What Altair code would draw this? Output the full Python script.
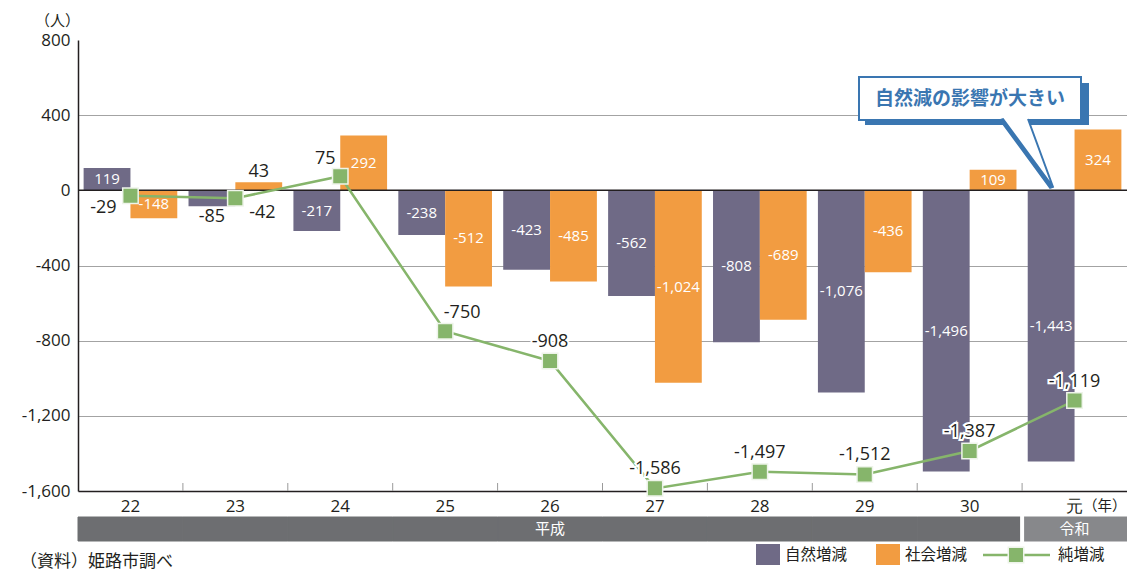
import altair as alt
import pandas as pd

# ---------------- data ----------------
categories = ["22", "23", "24", "25", "26", "27", "28", "29", "30", "元"]
natural = [119, -85, -217, -238, -423, -562, -808, -1076, -1496, -1443]
social = [-148, 43, 292, -512, -485, -1024, -689, -436, 109, 324]
net = [-29, -42, 75, -750, -908, -1586, -1497, -1512, -1387, -1119]
series_names = ["自然増減", "社会増減", "純増減"]
eras = ["平成"] * 9 + ["令和"]
era_label_cats = ["26", "元"]
y_ticks = [-1600, -1200, -800, -400, 0, 400, 800]
y_unit = "（人）"
x_unit = "（年）"
callout_text = "自然減の影響が大きい"
source_text = "（資料）姫路市調べ"

# ---------------- style ----------------
FONT = "Open Sans"
JFONT = "Noto Sans CJK JP"
DARK = "#231f20"
PURPLE = "#6f6a86"
ORANGE = "#f29c41"
GREEN = "#86b56b"
ERA_DARK = "#6d6e71"
ERA_LIGHT = "#87888b"
BLUE = "#3a76b1"

rows = []
for c, v in zip(categories, natural):
    rows.append({"cat": c, "series": series_names[0], "value": v})
for c, v in zip(categories, social):
    rows.append({"cat": c, "series": series_names[1], "value": v})
bars_df = pd.DataFrame(rows)
bars_df["mid"] = bars_df["value"] / 2
bars_df["label"] = bars_df["value"].map(lambda v: f"{v:,}")
bars_df["inside"] = bars_df["value"].abs() >= 100

net_df = pd.DataFrame({"cat": categories, "net": net})
net_df["label"] = net_df["net"].map(lambda v: f"{v:,}")

era_df = pd.DataFrame({"cat": categories, "era": eras})
one = pd.DataFrame({"a": [0]})

x_scale = alt.Scale(domain=categories, paddingInner=0, paddingOuter=0)
x_axis = alt.Axis(title=None, labelFont=FONT, labelFontSize=17, labelColor=DARK,
                  labelAngle=0, ticks=False, domainColor=DARK, domainWidth=1.5,
                  labelPadding=7, grid=False)
y_scale = alt.Scale(domain=[-1600, 800], nice=False, zero=False)
y_axis = alt.Axis(values=y_ticks, title=y_unit, titleAngle=0, titleX=-21, titleY=-20,
                  titleFont=JFONT, titleFontSize=15, titleFontWeight="normal",
                  titleColor=DARK, titleAlign="center", titleBaseline="middle",
                  labelFont=FONT, labelFontSize=17, labelColor=DARK, labelPadding=8,
                  labelExpr="replace(datum.label, '−', '-')",
                  ticks=False, domainColor=DARK, domainWidth=1.5,
                  grid=True, gridColor="#a3a3a3", gridWidth=1,
                  gridOpacity={"condition": {"test": "datum.value === 800 || datum.value === -1600",
                                             "value": 0}, "value": 1})


def X(**kw):
    return alt.X("cat:N", scale=x_scale, axis=x_axis, **kw)


def Y(field):
    return alt.Y(field, scale=y_scale, axis=y_axis)


xoff = alt.XOffset("series:N", scale=alt.Scale(domain=series_names[:2], paddingInner=0,
                                                paddingOuter=0.12))

bars = alt.Chart(bars_df).mark_bar().encode(
    x=X(), xOffset=xoff, y=Y("value:Q"),
    color=alt.Color("series:N", scale=alt.Scale(domain=series_names[:2], range=[PURPLE, ORANGE]),
                    legend=None),
)

zero = alt.Chart(one).mark_rule(color=DARK, strokeWidth=1.5).encode(y=alt.datum(0))

ticks = alt.Chart(pd.DataFrame({"cat": categories[1:]})).mark_rule(color="#9a9a9a", strokeWidth=1).encode(
    x=X(bandPosition=0), y=alt.value(443), y2=alt.value(451))

era_h = alt.Chart(era_df).transform_filter(alt.datum.era == "平成").mark_rect(
    color=ERA_DARK, stroke=ERA_DARK, strokeWidth=1).encode(
    x=X(), y=alt.value(477), y2=alt.value(501))
era_r = alt.Chart(era_df).transform_filter(alt.datum.era == "令和").mark_rect(
    color=ERA_LIGHT, stroke=ERA_LIGHT, strokeWidth=1).encode(
    x=X(), y=alt.value(477), y2=alt.value(501))
era_gap = alt.Chart(pd.DataFrame({"cat": ["元"]})).mark_rule(color="white", strokeWidth=4).encode(
    x=X(bandPosition=0), y=alt.value(476), y2=alt.value(502))
era_text = alt.Chart(pd.DataFrame({"cat": era_label_cats, "era": ["平成", "令和"]})).mark_text(
    font=JFONT, fontSize=15, color="white", baseline="middle").encode(
    x=X(), y=alt.value(489), text="era:N")

lab_in = alt.Chart(bars_df).transform_filter(alt.datum.inside).mark_text(
    font=FONT, fontSize=15, color="white", baseline="middle").encode(
    x=X(), xOffset=xoff, y=Y("mid:Q"), text="label:N")
lab_up = alt.Chart(bars_df).transform_filter("!datum.inside && datum.value > 0").mark_text(
    font=FONT, fontSize=18, color=DARK, baseline="middle", dy=-10).encode(
    x=X(), xOffset=xoff, y=Y("value:Q"), text="label:N")
lab_dn = alt.Chart(bars_df).transform_filter("!datum.inside && datum.value < 0").mark_text(
    font=FONT, fontSize=18, color=DARK, baseline="middle", dy=11).encode(
    x=X(), xOffset=xoff, y=Y("value:Q"), text="label:N")

line = alt.Chart(net_df).mark_line(color=GREEN, strokeWidth=2.5).encode(x=X(), y=Y("net:Q"))
pts = alt.Chart(net_df).mark_square(size=240, fill=GREEN, stroke="#eef4ea", strokeWidth=1.5,
                                    opacity=1).encode(x=X(), y=Y("net:Q"))


def net_labels(cats, dx, dy):
    base = alt.Chart(net_df).transform_filter(alt.FieldOneOfPredicate(field="cat", oneOf=cats))
    halo = base.mark_text(font=FONT, fontSize=18, fontWeight=500, color="white", stroke="white",
                          strokeWidth=4, baseline="middle", dx=dx, dy=dy).encode(
        x=X(), y=Y("net:Q"), text="label:N")
    txt = base.mark_text(font=FONT, fontSize=18, fontWeight=500, color=DARK,
                         baseline="middle", dx=dx, dy=dy).encode(
        x=X(), y=Y("net:Q"), text="label:N")
    return [halo, txt]


net_layers = (net_labels(["22"], -27, 12) + net_labels(["23"], 27, 15) +
              net_labels(["24"], -15, -17) + net_labels(["25"], 17, -18) +
              net_labels(categories[4:], 0, -19))

# legend (plot-area pixel positions)
leg = [
    alt.Chart(one).mark_rect(color=PURPLE).encode(x=alt.value(678), x2=alt.value(702),
                                                 y=alt.value(504), y2=alt.value(525)),
    alt.Chart(one).mark_text(text=series_names[0], font=JFONT, fontSize=15.5, color=DARK,
                             align="left", baseline="middle").encode(x=alt.value(707), y=alt.value(515)),
    alt.Chart(one).mark_rect(color=ORANGE).encode(x=alt.value(798), x2=alt.value(822),
                                                 y=alt.value(504), y2=alt.value(525)),
    alt.Chart(one).mark_text(text=series_names[1], font=JFONT, fontSize=15.5, color=DARK,
                             align="left", baseline="middle").encode(x=alt.value(827), y=alt.value(515)),
    alt.Chart(one).mark_rule(color=GREEN, strokeWidth=2.5).encode(x=alt.value(905), x2=alt.value(972),
                                                                 y=alt.value(515)),
    alt.Chart(one).mark_square(size=240, fill=GREEN, stroke="#eef4ea", strokeWidth=1.5, opacity=1).encode(
        x=alt.value(938), y=alt.value(515)),
    alt.Chart(one).mark_text(text=series_names[2], font=JFONT, fontSize=15.5, color=DARK,
                             align="left", baseline="middle").encode(x=alt.value(980), y=alt.value(515)),
]

# callout (plot-area pixel positions)
CX = -7
callout = [
    alt.Chart(one).mark_rect(color=BLUE).encode(x=alt.value(794 + CX), x2=alt.value(1018 + CX),
                                               y=alt.value(43), y2=alt.value(85)),
    alt.Chart(one).mark_rect(fill="white", stroke=BLUE, strokeWidth=2).encode(
        x=alt.value(788 + CX), x2=alt.value(1010 + CX), y=alt.value(37), y2=alt.value(80)),
    alt.Chart(one).mark_point(shape="M -3 1 L 47 69 L 50 68 L 0 0 Z", size=4, filled=True,
                              fill=BLUE, stroke=BLUE, strokeWidth=1.5, opacity=1).encode(
        x=alt.value(932 + CX), y=alt.value(79)),
    alt.Chart(one).mark_point(shape="M 0 0 L 50 68 L 25 0", size=4, filled=True, fill="white",
                              stroke=BLUE, strokeWidth=2, opacity=1).encode(
        x=alt.value(932 + CX), y=alt.value(79)),
    alt.Chart(one).mark_text(text=callout_text, font=JFONT, fontSize=19, fontWeight="bold",
                             color=BLUE, baseline="middle").encode(x=alt.value(899 + CX), y=alt.value(59)),
]

misc = [
    alt.Chart(one).mark_text(text=source_text, font=JFONT, fontSize=17, color=DARK,
                             align="left", baseline="middle").encode(x=alt.value(-58), y=alt.value(522)),
    alt.Chart(pd.DataFrame({"cat": ["元"]})).mark_text(text=x_unit, font=JFONT, fontSize=14.5, color=DARK,
                                                       align="right", baseline="middle", dx=-0.5).encode(
        x=X(bandPosition=1), y=alt.value(467)),
]

chart = alt.layer(
    bars, zero, ticks, era_h, era_r, era_gap, era_text, lab_in, lab_up, lab_dn,
    line, pts, *net_layers, *leg, *callout, *misc
).properties(
    width=1049, height=451,
    padding={"left": 70, "top": 32, "right": 0, "bottom": 81},
    autosize=alt.AutoSizeParams(type="none"),
).configure_view(strokeWidth=0)

chart.save("out.html", embed_options={"renderer": "svg", "actions": False})
